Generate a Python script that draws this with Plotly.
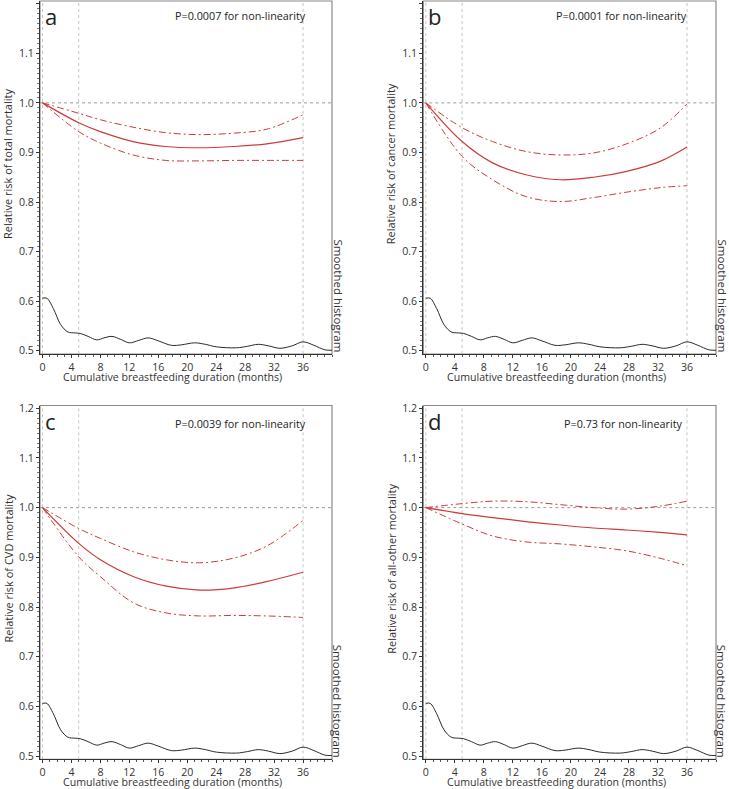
import plotly.graph_objects as go

# ---------------- data ----------------
months_a = [0, 5, 8, 12.5, 17, 21.5, 26.5, 31, 36]
total_rr = [1.0, 0.960, 0.942, 0.922, 0.912, 0.9095, 0.912, 0.9175, 0.930]
total_hi = [1.0, 0.979, 0.966, 0.951, 0.940, 0.936, 0.939, 0.947, 0.976]
total_lo = [1.0, 0.942, 0.919, 0.895, 0.884, 0.883, 0.884, 0.884, 0.884]

months_b = [0, 5, 9.2, 13.8, 18.5, 23.1, 27.7, 32.3, 36]
cancer_rr = [1.0, 0.922, 0.879, 0.855, 0.845, 0.850, 0.862, 0.882, 0.911]
cancer_hi = [1.0, 0.950, 0.922, 0.902, 0.895, 0.899, 0.9175, 0.949, 0.998]
cancer_lo = [1.0, 0.892, 0.845, 0.811, 0.801, 0.809, 0.820, 0.829, 0.833]

months_c = [0, 5, 8, 12.6, 17.1, 21.7, 26.3, 30.9, 36]
cvd_rr = [1.0, 0.928, 0.895, 0.861, 0.842, 0.834, 0.838, 0.851, 0.870]
cvd_hi = [1.0, 0.958, 0.938, 0.911, 0.895, 0.889, 0.898, 0.922, 0.974]
cvd_lo = [1.0, 0.901, 0.861, 0.808, 0.788, 0.782, 0.783, 0.782, 0.779]

months_d = [0, 5, 9.2, 13.8, 18.5, 23.1, 27.7, 32.3, 36]
other_rr = [1.0, 0.988, 0.980, 0.972, 0.965, 0.959, 0.955, 0.950, 0.945]
other_hi = [1.0, 1.008, 1.013, 1.012, 1.006, 1.000, 0.997, 1.003, 1.013]
other_lo = [1.0, 0.967, 0.943, 0.931, 0.927, 0.921, 0.913, 0.898, 0.883]

hist_x = [0, 0.6, 1.5, 2.5, 3.5, 4.5, 5.2, 6.3, 7.5, 8.5, 9.6, 10.8, 12.0, 13.3,
          14.6, 16, 17.8, 19.2, 21, 22.5, 24, 26.8, 28.3, 29.8, 31.2, 32.8,
          34.5, 36, 37.5, 39, 40]
hist_y = [0.606, 0.606, 0.585, 0.553, 0.538, 0.536, 0.535, 0.529, 0.522, 0.526,
          0.529, 0.523, 0.516, 0.521, 0.526, 0.520, 0.511, 0.512, 0.516, 0.513,
          0.508, 0.506, 0.509, 0.513, 0.510, 0.505, 0.510, 0.518, 0.511, 0.502,
          0.501]

panels = [
    dict(letter="a", ptext="P=0.0007 for non-linearity", ytitle="Relative risk of total mortality",
         x=months_a, rr=total_rr, hi=total_hi, lo=total_lo),
    dict(letter="b", ptext="P=0.0001 for non-linearity", ytitle="Relative risk of cancer mortality",
         x=months_b, rr=cancer_rr, hi=cancer_hi, lo=cancer_lo),
    dict(letter="c", ptext="P=0.0039 for non-linearity", ytitle="Relative risk of CVD mortality",
         x=months_c, rr=cvd_rr, hi=cvd_hi, lo=cvd_lo),
    dict(letter="d", ptext="P=0.73 for non-linearity", ytitle="Relative risk of all-other mortality",
         x=months_d, rr=other_rr, hi=other_hi, lo=other_lo),
]

x_ticks = [0, 4, 8, 12, 16, 20, 24, 28, 32, 36]
y_ticks = [0.5, 0.6, 0.7, 0.8, 0.9, 1.0, 1.1, 1.2]
ref_x = [0, 5, 36]
x_title = "Cumulative breastfeeding duration (months)"

# ---------------- layout geometry (pixels) ----------------
W, H = 729, 789
xpix = [(40, 332), (423.3, 716), (40, 332), (423.3, 716)]
ypix = [(1, 354), (1, 354), (405.5, 759.3), (405.5, 759.3)]
ptext_cx = [240.3, 621.7, 240.3, 623.3]
ptext_cy = [15, 15, 423, 423]

XR = [-0.35, 40.0]
YR = [0.4935, 1.2055]

RED = "#cc3b3b"
FONT = "Open Sans, Segoe UI, DejaVu Sans, sans-serif"
TXT = "#333333"
FS = 10.6

fig = go.Figure()
annotations = []
shapes = []
layout_axes = {}

for i, p in enumerate(panels):
    n = i + 1
    xa = "x" if n == 1 else f"x{n}"
    ya = "y" if n == 1 else f"y{n}"
    xkey = "xaxis" if n == 1 else f"xaxis{n}"
    ykey = "yaxis" if n == 1 else f"yaxis{n}"
    x0, x1 = xpix[i]
    yt, yb = ypix[i]
    layout_axes[xkey] = dict(
        domain=[x0 / W, x1 / W], range=XR, anchor=ya, automargin=False,
        tickvals=x_ticks, ticks="outside", ticklen=3, tickcolor="#333",
        showline=True, linecolor="#333", linewidth=1, showgrid=False, zeroline=False,
        tickfont=dict(size=FS, color=TXT, family=FONT),
        minor=dict(dtick=1, tick0=0, ticks="outside", ticklen=2, tickcolor="#555"),
    )
    layout_axes[ykey] = dict(
        domain=[1 - yb / H, 1 - yt / H], range=YR, anchor=xa, automargin=False,
        tickvals=y_ticks, tickformat=".1f", ticks="outside", ticklen=3, tickcolor="#333",
        showline=True, linecolor="#333", linewidth=1, showgrid=False, zeroline=False,
        tickfont=dict(size=FS, color=TXT, family=FONT),
        minor=dict(dtick=0.01, tick0=0.5, ticks="outside", ticklen=2, tickcolor="#777"),
    )
    # gray frame
    shapes.append(dict(type="rect", xref="paper", yref="paper",
                       x0=x0 / W, x1=x1 / W, y0=1 - yb / H, y1=1 - yt / H,
                       line=dict(color="#8a8a8a", width=1.2), layer="below"))
    # reference dotted lines
    for rx in ref_x:
        shapes.append(dict(type="line", xref=xa, yref=f"{ya} domain", x0=rx, x1=rx, y0=0, y1=1,
                           line=dict(color="#c4c4c4", width=1, dash="dot"), layer="below"))
    shapes.append(dict(type="line", xref=f"{xa} domain", yref=ya, x0=0, x1=1, y0=1.0, y1=1.0,
                       line=dict(color="#9a9a9a", width=1, dash="dot"), layer="below"))

    # traces
    fig.add_trace(go.Scatter(x=hist_x, y=hist_y, mode="lines",
                             line=dict(color="#2a2a2a", width=1, shape="spline"),
                             xaxis=xa, yaxis=ya, showlegend=False))
    for key in ("hi", "lo"):
        fig.add_trace(go.Scatter(x=p["x"], y=p[key], mode="lines",
                                 line=dict(color=RED, width=1, dash="7px,3px,2px,3px", shape="spline"),
                                 xaxis=xa, yaxis=ya, showlegend=False))
    fig.add_trace(go.Scatter(x=p["x"], y=p["rr"], mode="lines",
                             line=dict(color=RED, width=1.2, shape="spline"),
                             xaxis=xa, yaxis=ya, showlegend=False))

    # texts
    annotations.append(dict(xref="paper", yref="paper", x=(x0 + 3) / W, y=1 - (yt + 15) / H,
                            text=p["letter"], showarrow=False, xanchor="left", yanchor="middle",
                            font=dict(size=22, color="#222", family=FONT)))
    annotations.append(dict(xref="paper", yref="paper", x=ptext_cx[i] / W, y=1 - ptext_cy[i] / H,
                            text=p["ptext"], showarrow=False, xanchor="center", yanchor="middle",
                            font=dict(size=10.8, color="#222", family=FONT)))
    annotations.append(dict(xref="paper", yref="paper", x=(x0 - 32) / W, y=1 - (yt + 163) / H,
                            text=p["ytitle"], showarrow=False, textangle=-90,
                            xanchor="center", yanchor="middle",
                            font=dict(size=11, color=TXT, family=FONT)))
    annotations.append(dict(xref="paper", yref="paper", x=(x1 + 5.5) / W, y=1 - (yb - 58) / H,
                            text="Smoothed histogram", showarrow=False, textangle=90,
                            xanchor="center", yanchor="middle",
                            font=dict(size=11.5, color=TXT, family=FONT)))
    annotations.append(dict(xref=xa, yref="paper", x=18, y=1 - (yb + 22.5) / H,
                            text=x_title, showarrow=False, xanchor="center", yanchor="middle",
                            font=dict(size=FS, color=TXT, family=FONT)))

fig.update_layout(
    width=W, height=H, margin=dict(l=0, r=0, t=0, b=0, autoexpand=False),
    paper_bgcolor="white", plot_bgcolor="white",
    annotations=annotations, shapes=shapes, showlegend=False,
    font=dict(family=FONT, color=TXT),
    **layout_axes,
)

fig.write_html("out.html", config={"displayModeBar": False},
               post_script="document.body.style.margin='0px';document.body.style.overflow='hidden';")
